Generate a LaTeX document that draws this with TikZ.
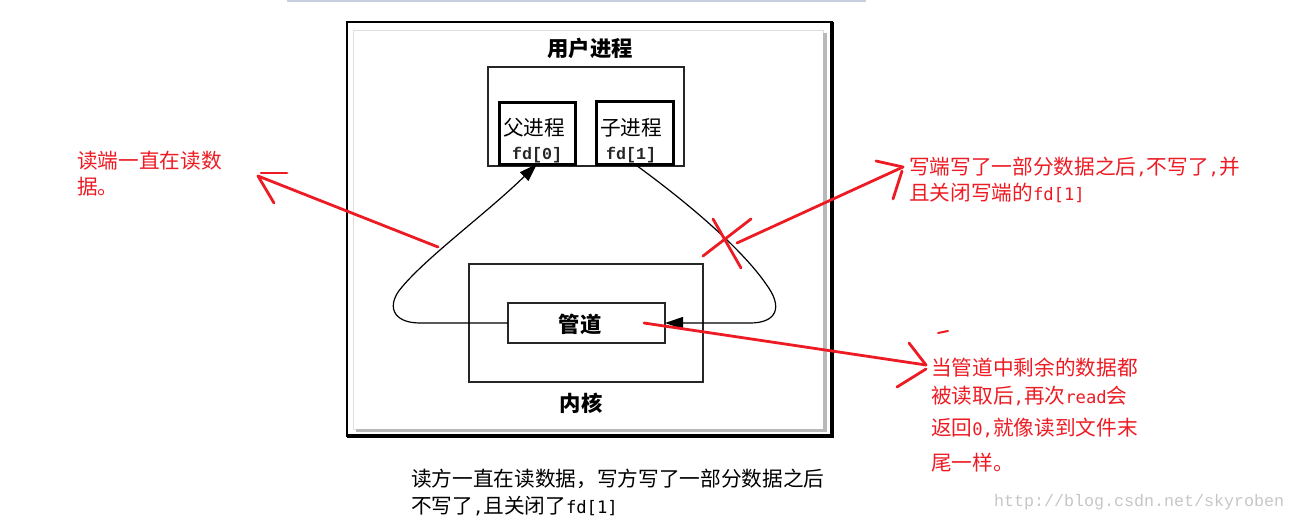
\documentclass[tikz,border=0pt]{standalone}
\usepackage{fontspec}
\newfontfamily\cjk{Noto Sans CJK SC}
\newfontfamily\mono{Liberation Mono}
\newfontfamily\halfw{DejaVu Sans Mono}
\usetikzlibrary{arrows.meta,fit}
\definecolor{annot}{RGB}{237,28,36}
\definecolor{topline}{RGB}{200,208,224}
\newcommand\lat[1]{{\halfw\fontsize{12.9}{14}\selectfont #1}}
\begin{document}
\begin{tikzpicture}[x=0.75pt,y=-0.75pt,
  every node/.style={inner sep=0pt, outer sep=0pt},
  rtext/.style={text=annot, font=\cjk\fontsize{15.5}{18}\selectfont, anchor=base west},
  btext/.style={text=black, font=\cjk\fontsize{15.5}{18}\selectfont, anchor=base west},
  intext/.style={text=black, font=\cjk\fontsize{15.5}{18}\selectfont},
  boldtext/.style={text=black, font=\cjk\bfseries\fontsize{16}{18}\selectfont},
  fdtext/.style={text=black!85, font=\mono\bfseries\fontsize{12.5}{14}\selectfont},
  frame/.style={draw=black!85, line width=0.8pt},
  procbox/.style={draw=black, line width=2.25pt},
  redline/.style={draw=annot, line width=2.1pt, line cap=round},
  flow/.style={draw=black, line width=0.9pt, -{Triangle[length=13.5pt,width=9pt]}},
]
\useasboundingbox (0,0) rectangle (1295,521);
% top strip
\draw[topline, line width=1.5pt] (287,1) -- (866,1);
% outer frame and panel
\fill[white] (347,22) rectangle (832,436);
\draw[gray!25, line width=0.6pt] (353,30) rectangle (823,429);
\fill[gray!55] (823,33) rectangle (827,432);
\fill[gray!55] (356,429) rectangle (827,432);
\draw[black, line width=0.8pt] (347,22) rectangle (832,436);
\draw[black, line width=2.6pt] (832,22) -- (832,436) -- (347,436);
% diagram boxes
\node[boldtext] (usertext) at (590,48) {用户进程};
\node[frame, fit={(488,67) (684,166)}] (user) {};
\node[procbox, fit={(499,102) (575,164)}] (parent) {};
\node[procbox, fit={(596,101) (673,164)}] (child) {};
\node[intext] (ptext) at (534,128) {父进程};
\node[fdtext] (pfd) at (537,155) {fd[0]};
\node[intext] (ctext) at (631,128) {子进程};
\node[fdtext] (cfd) at (631,155) {fd[1]};
\node[frame, fit={(469,264) (703,382)}] (kernel) {};
\node[frame, fit={(508,303) (665,343)}] (pipe) {};
\node[boldtext] (pipetext) at (580,324) {管道};
\node[boldtext] (kerneltext) at (581,403) {内核};
% flows
\draw[flow] (pipe.west) -- (420,323) .. controls (392,323) and (386,305) .. (402,287) .. controls (428,256) and (488,212) .. (parent.south);
\draw[flow] (child.south) .. controls (695,208) and (744,252) .. (766,284) .. controls (784,308) and (776,323) .. (750,323) -- (pipe.east);
% red annotations: left
\coordinate (a1s) at (438,247);
\coordinate (a1t) at (258,176);
\coordinate (a1b) at (274,203);
\coordinate (a1c) at (261,173);
\coordinate (a1d) at (287,173);
\draw[redline] (a1s) -- (a1t);
\draw[redline] (a1t) -- (a1b);
\draw[redline] (a1c) -- (a1d);
% cross
\coordinate (x1a) at (713,219);
\coordinate (x1b) at (741,268);
\coordinate (x2a) at (751,219);
\coordinate (x2b) at (703,256);
\draw[redline] (x1a) -- (x1b);
\draw[redline] (x2a) -- (x2b);
% right top arrow
\coordinate (a2s) at (737,243);
\coordinate (a2t) at (903,167);
\coordinate (a2b) at (876,161);
\coordinate (a2c) at (893,199);
\coordinate (a2d) at (902,171);
\draw[redline] (a2s) -- (a2t);
\draw[redline] (a2b) -- (a2t);
\draw[redline] (a2c) -- (a2d);
% right bottom arrow
\coordinate (a3s) at (644,323);
\coordinate (a3t) at (926,365);
\coordinate (a3b) at (909,343);
\coordinate (a3c) at (897,387);
\coordinate (a3d) at (926,369);
\coordinate (a3e) at (938,333);
\coordinate (a3f) at (948,331);
\draw[redline] (a3s) -- (a3t);
\draw[redline] (a3b) -- (a3t);
\draw[redline] (a3c) -- (a3d);
\draw[redline, line width=1.5pt] (a3e) -- (a3f);
% red texts
\node[rtext] (l1) at (77,168) {读端一直在读数};
\node[rtext] (l2) at (77,194) {据。};
\node[rtext] (r1) at (909,174) {写端写了一部分数据之后\lat{,}不写了\lat{,}并};
\node[rtext] (r2) at (909,200) {且关闭写端的\lat{fd[1]}};
\node[rtext] (q1) at (931,375) {当管道中剩余的数据都};
\node[rtext] (q2) at (931,403) {被读取后\lat{,}再次\lat{read}会};
\node[rtext] (q3) at (931,435) {返回\lat{0,}就像读到文件末};
\node[rtext] (q4) at (931,470) {尾一样。};
% bottom caption
\node[btext] (b1) at (411,486) {读方一直在读数据，写方写了一部分数据之后};
\node[btext] (b2) at (411,513) {不写了\lat{,}且关闭了\lat{fd[1]}};
% watermark
\node[font=\mono\fontsize{12.5}{14}\selectfont, text=gray!45, anchor=west] (wm) at (994,502) {http://blog.csdn.net/skyroben};
\end{tikzpicture}
\end{document}
